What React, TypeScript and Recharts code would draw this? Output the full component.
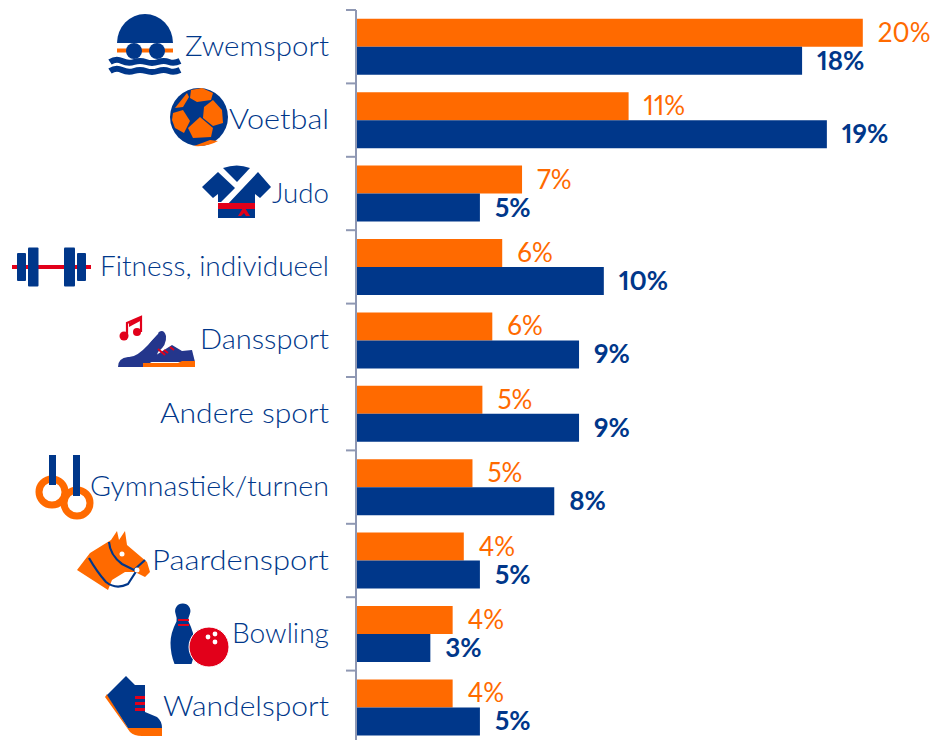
import React from "react";
import { BarChart, Bar, XAxis, YAxis, LabelList } from "recharts";

const categories = ["Zwemsport","Voetbal","Judo","Fitness, individueel","Danssport","Andere sport","Gymnastiek/turnen","Paardensport","Bowling","Wandelsport"];
const orangeValues = [20.45,11.0,6.7,5.9,5.5,5.1,4.7,4.35,3.9,3.9];
const navyValues = [18,19,5,10,9,9,8,5,3,5];

const ORANGE = "#ff6a00";
const NAVY = "#00378a";
const RED = "#e2001a";
const AXIS = "#8f98b3";
const FONT = "Lato, sans-serif";
const BAND = 73.4;

// The reference face is wider than any installed one: each label is fitted to its measured width.
const labelWidths: Record<string, number> = {
  Zwemsport: 144, Voetbal: 100, Judo: 57, "Fitness, individueel": 229, Danssport: 129,
  "Andere sport": 169, "Gymnastiek/turnen": 239, Paardensport: 177, Bowling: 97, Wandelsport: 166,
};

const data = categories.map((name, i) => ({ name, orange: orangeValues[i], navy: navyValues[i] }));

const wave = (y: number) => `M110 ${y} q6 -4 12 -1 t12 1 t12 0 t12 0 t11 0 t11 -1`;

// Icons are authored in the page coordinates of their own row; rowCenter is the row's centre.
const icons: Record<string, { rowCenter: number; el: React.ReactNode }> = {
  Zwemsport: { rowCenter: 46.7, el: (
    <g>
      <path d="M117 43 A28 29 0 0 1 173 43 Z" fill={NAVY} />
      <rect x={117} y={48.5} width={56} height={4} fill={ORANGE} />
      <circle cx={134} cy={51} r={8} fill={NAVY} />
      <circle cx={157} cy={51} r={8} fill={NAVY} />
      <path d={wave(62)} stroke={NAVY} strokeWidth={6} fill="none" />
      <path d={wave(71)} stroke={NAVY} strokeWidth={6} fill="none" />
    </g>) },
  Voetbal: { rowCenter: 120.1, el: (
    <g>
      <circle cx={199} cy={117} r={29} fill={NAVY} />
      <g fill={ORANGE}>
        <polygon points="191,90 202,88 213,93 211,100 197,102 190,98" />
        <polygon points="204,107 213,100 222,110 223,123 213,126 203,118" />
        <polygon points="200,117 213,128 211,137 193,138 188,128" />
        <polygon points="173,113 183,110 190,121 184,133 175,128 172,120" />
        <polygon points="175,108 187,93 189,97 183,107" />
        <path d="M194 146 L210 140 L218 141 Q208 147 194 146 Z" />
      </g>
    </g>) },
  Judo: { rowCenter: 193.5, el: (
    <g>
      <path d="M223 168 Q237 163 250 168 L237 182 Z" fill={NAVY} />
      <polygon points="202,187 218,172 235,188 221,202 218,202 218,194 213,198" fill={NAVY} />
      <polygon points="258,172 271,187 260,198 255,194 255,218 218,218 218,206 226,206" fill={NAVY} />
      <rect x={218} y={203} width={37} height={6} fill={RED} />
      <polygon points="245,208 250,216 246,216 244,213 241,216 238,216 243,208" fill={RED} />
    </g>) },
  "Fitness, individueel": { rowCenter: 266.9, el: (
    <g fill={NAVY}>
      <rect x={12} y={265} width={79} height={4} fill={RED} />
      <rect x={17} y={253} width={9} height={28} rx={1} />
      <rect x={28} y={247.5} width={10.5} height={39} rx={1} />
      <rect x={64} y={247.5} width={11} height={39} rx={1} />
      <rect x={77} y={253} width={9} height={28} rx={1} />
    </g>) },
  Danssport: { rowCenter: 340.3, el: (
    <g>
      <circle cx={124} cy={336} r={4.5} fill={RED} />
      <circle cx={137} cy={332} r={4} fill={RED} />
      <path d="M127 336 V323 L141 317 V332" stroke={RED} strokeWidth={2.2} fill="none" />
      <path d="M129 323 L142 316 V320 L129 327 Z" fill={RED} />
      <path d="M118 367 Q118 358 128 357 Q136 358 148 345 L159 332 Q164 329 166 336 Q167 345 158 352 L155 360 L143 367 Z" fill="#24368c" />
      <path d="M128 356 Q140 352 158 333" stroke="#fff" strokeWidth={1.2} fill="none" />
      <path d="M153 357 L172 345 L182 351 L192 350 L195 362 H143 Z" fill="#24368c" />
      <path d="M143 367 V363 H178 L182 361 H195 V367 Z" fill={ORANGE} />
      <path d="M158 349 L165 355 M164 350 L168 353 M170 347 L174 350" stroke={RED} strokeWidth={2} />
    </g>) },
  "Gymnastiek/turnen": { rowCenter: 487.1, el: (
    <g>
      <circle cx={52} cy={492} r={13} stroke={ORANGE} strokeWidth={7} fill="none" />
      <circle cx={77} cy={503} r={13} stroke={ORANGE} strokeWidth={7} fill="none" />
      <rect x={49} y={455} width={7} height={30} fill={NAVY} />
      <rect x={73} y={455} width={7} height={41} fill={NAVY} />
    </g>) },
  Paardensport: { rowCenter: 560.5, el: (
    <g>
      <polygon points="111,540 117,531 119,540 125,531 127,545 147,562 150,572 145,577 135,572 125,572 112,580 108,590 77,570 90,553" fill={ORANGE} />
      <path d="M109 542 Q110 555 122 564 L134 570 L145 560 M89 558 Q97 572 106 582 Q116 590 128 584 L137 570" stroke={NAVY} strokeWidth={2.2} fill="none" />
      <circle cx={122} cy={554} r={2.5} fill="#fff" />
      <circle cx={137} cy={570} r={2.5} fill="#fff" />
    </g>) },
  Bowling: { rowCenter: 633.9, el: (
    <g>
      <path d="M183 603.5 a7.5 7.5 0 0 1 7 10 q-2 4 -1.5 8 q6 12 6 22 q0 12 -3 20.5 h-17 q-4 -10 -4 -21 q0 -10 6 -21.5 q0.5 -4 -1 -8 a7.5 7.5 0 0 1 7 -10 Z" fill={NAVY} />
      <rect x={178} y={619} width={11} height={2} fill={RED} />
      <rect x={178} y={624} width={11} height={2} fill={RED} />
      <circle cx={209} cy={647} r={20} fill={RED} stroke="#fff" strokeWidth={1} />
      <circle cx={208} cy={637} r={2.4} fill="#fff" />
      <circle cx={215} cy={634} r={2.4} fill="#fff" />
      <circle cx={215} cy={642} r={2.4} fill="#fff" />
    </g>) },
  Wandelsport: { rowCenter: 707.3, el: (
    <g>
      <path d="M105 697 L130 732 Q134 736 142 736 H162 V728 H128 L107 694 Z" fill={ORANGE} />
      <path d="M107 695 L126 676 L135 685 H145 V712 L157 717 Q162 721 162 728 H128 Z" fill={NAVY} />
      <rect x={135} y={696} width={10} height={3} fill={RED} />
      <rect x={135} y={702} width={10} height={3} fill={RED} />
      <rect x={135} y={708} width={10} height={3} fill={RED} />
    </g>) },
};

function CategoryTick(props: any) {
  const { x, y, payload } = props;
  const icon = icons[payload.value];
  return (
    <g>
      <line x1={x - 10} x2={x} y1={y - BAND / 2} y2={y - BAND / 2} stroke={AXIS} strokeWidth={2} />
      {icon && <g transform={`translate(0 ${y - icon.rowCenter})`}>{icon.el}</g>}
      <text x={x - 27} y={y} dy={9} textAnchor="end" fill={NAVY} fontFamily={FONT} fontWeight={300} fontSize={28}
        textLength={labelWidths[payload.value]} lengthAdjust="spacingAndGlyphs">
        {payload.value}
      </text>
    </g>
  );
}

const makeValueLabel = (fill: string, fontWeight: number) => (props: any) => {
  const { x, y, width, height, value } = props;
  return (
    <text x={x + width + 15} y={y + height / 2} dy={9} fill={fill} fontFamily={FONT} fontSize={26} fontWeight={fontWeight}
      style={{ fontVariantNumeric: "proportional-nums" }}>
      {`${Math.round(Number(value))}%`}
    </text>
  );
};

export default function App() {
  return (
    <div style={{ position: "absolute", left: 0, top: 0, width: 932, height: 740, overflow: "hidden", background: "#fff" }}>
      <BarChart width={932} height={760} data={data} layout="vertical" barGap={0} barCategoryGap="12%"
        margin={{ top: 10, right: 6, bottom: 16, left: 0 }}>
        <XAxis type="number" domain={[0, 23]} hide />
        <YAxis type="category" dataKey="name" width={356} interval={0} tickLine={false} tickSize={0} tickMargin={0}
          axisLine={{ stroke: AXIS, strokeWidth: 2 }} tick={<CategoryTick />} />
        <Bar dataKey="orange" fill={ORANGE} isAnimationActive={false}>
          <LabelList dataKey="orange" content={makeValueLabel(ORANGE, 400)} />
        </Bar>
        <Bar dataKey="navy" fill={NAVY} isAnimationActive={false}>
          <LabelList dataKey="navy" content={makeValueLabel(NAVY, 700)} />
        </Bar>
      </BarChart>
    </div>
  );
}
